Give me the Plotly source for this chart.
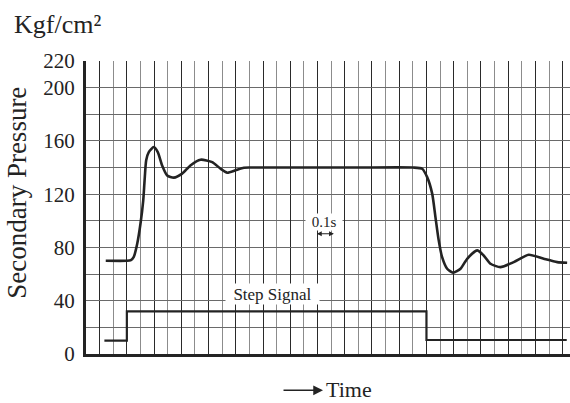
import plotly.graph_objects as go

# ---- data (grid units along time axis, 1 unit = 0.1 s) ----
pressure_t = [1.45, 3.0, 3.3, 3.5, 3.76, 4.0, 4.2, 4.3, 4.42, 4.61, 4.98, 5.27, 5.59, 5.96, 6.45,
              7.06, 7.67, 8.41, 9.27, 9.88, 10.37, 10.98, 11.59, 12.5, 16.0, 20.0, 24.0, 24.68,
              25.05, 25.42, 25.66, 25.9, 26.15, 26.52, 26.96, 27.5, 27.99, 28.72, 29.2, 29.7,
              30.43, 31.41, 32.51, 33.61, 34.6, 35.33]
pressure_v = [70, 70, 70.5, 72.7, 82.8, 97.8, 115, 130, 145.4, 151.6, 155.4, 151.6, 141.6, 134.1, 132.4,
              135.4, 141.6, 145.9, 144.1, 139.1, 136.1, 137.9, 139.9, 140, 140, 140, 140, 139.1,
              132.8, 120.4, 102.8, 85.3, 72.7, 64, 61, 64, 71.5, 77.8, 74, 67.8,
              65.2, 69, 74.5, 71.5, 69, 68.5]

step_t = [1.35, 3.0, 3.0, 25.0, 25.0, 35.3]
step_v = [10, 10, 32, 32, 10.5, 10.5]

y_tick_vals = [0, 40, 80, 120, 160, 200, 220]
y_tick_text = ["0", "40", "80", "120", "160", "200", "220"]

FONT = "Liberation Serif, Times New Roman, serif"
INK = "#232323"

fig = go.Figure()
fig.add_trace(go.Scatter(x=pressure_t, y=pressure_v, mode="lines",
                         line=dict(color=INK, width=2.6, shape="spline", smoothing=0.6),
                         hoverinfo="skip", showlegend=False))
fig.add_trace(go.Scatter(x=step_t, y=step_v, mode="lines",
                         line=dict(color=INK, width=2.2),
                         hoverinfo="skip", showlegend=False))

fig.update_layout(
    width=570, height=403,
    margin=dict(l=86, r=0, t=61, b=49),
    paper_bgcolor="white", plot_bgcolor="white",
    font=dict(family=FONT, color=INK),
    xaxis=dict(range=[0, 35.54], showticklabels=False, zeroline=False,
               tickmode="linear", tick0=1, dtick=2,
               showgrid=True, gridcolor="#2a2a2a", gridwidth=1,
               minor=dict(tickmode="linear", tick0=0, dtick=1, showgrid=True,
                          gridcolor="#8c8c8c", gridwidth=1.4),
               showline=True, linecolor=INK, linewidth=3, mirror=False),
    yaxis=dict(range=[0, 220], tickmode="array", tickvals=y_tick_vals, ticktext=y_tick_text,
               tickfont=dict(family=FONT, size=21, color=INK),
               ticks="", ticklabelstandoff=4, zeroline=False,
               showgrid=True, gridcolor="#6a6a6a", gridwidth=1,
               minor=dict(tickmode="linear", tick0=0, dtick=20, showgrid=True,
                          gridcolor="#6a6a6a", gridwidth=1),
               showline=True, linecolor=INK, linewidth=3, mirror=False),
)

# Unit label
fig.add_annotation(text="Kgf/cm²", xref="paper", yref="paper", x=-0.153, y=1.125,
                   xanchor="left", yanchor="middle", showarrow=False,
                   font=dict(family=FONT, size=26, color=INK))
# Y title
fig.add_annotation(text="Secondary Pressure", xref="paper", yref="paper", x=-0.1426, y=0.55,
                   xanchor="center", yanchor="middle", textangle=-90, showarrow=False,
                   font=dict(family=FONT, size=27, color=INK))
# Time label and arrow
fig.add_annotation(text="Time", xref="paper", yref="paper", x=0.4917, y=-0.121,
                   xanchor="left", yanchor="middle", showarrow=False,
                   font=dict(family=FONT, size=22, color=INK))
fig.add_annotation(text="", xref="paper", yref="paper", x=0.4897, y=-0.124,
                   ax=-41, ay=0, showarrow=True, arrowhead=2, arrowsize=1.3,
                   arrowwidth=1.5, arrowcolor=INK)
# Step Signal label
fig.add_annotation(text="Step Signal", x=13.66, y=44.7, showarrow=False,
                   bgcolor="white", width=93, height=20, borderpad=0,
                   font=dict(family=FONT, size=17, color=INK))
# 0.1s label and scale arrow
fig.add_annotation(text="0.1s", x=17.51, y=98.8, showarrow=False,
                   bgcolor="white", width=36, height=16, borderpad=0,
                   font=dict(family=FONT, size=15, color=INK))
fig.add_annotation(text="", x=18.2, y=90.3, ax=16.85, ay=90.3, axref="x", ayref="y",
                   showarrow=True, arrowside="end+start", arrowhead=2, arrowsize=0.8,
                   arrowwidth=1.2, arrowcolor=INK)

fig.write_html("out.html", config={"displayModeBar": False},
               post_script="document.body.style.margin='0';document.body.style.padding='0';")
